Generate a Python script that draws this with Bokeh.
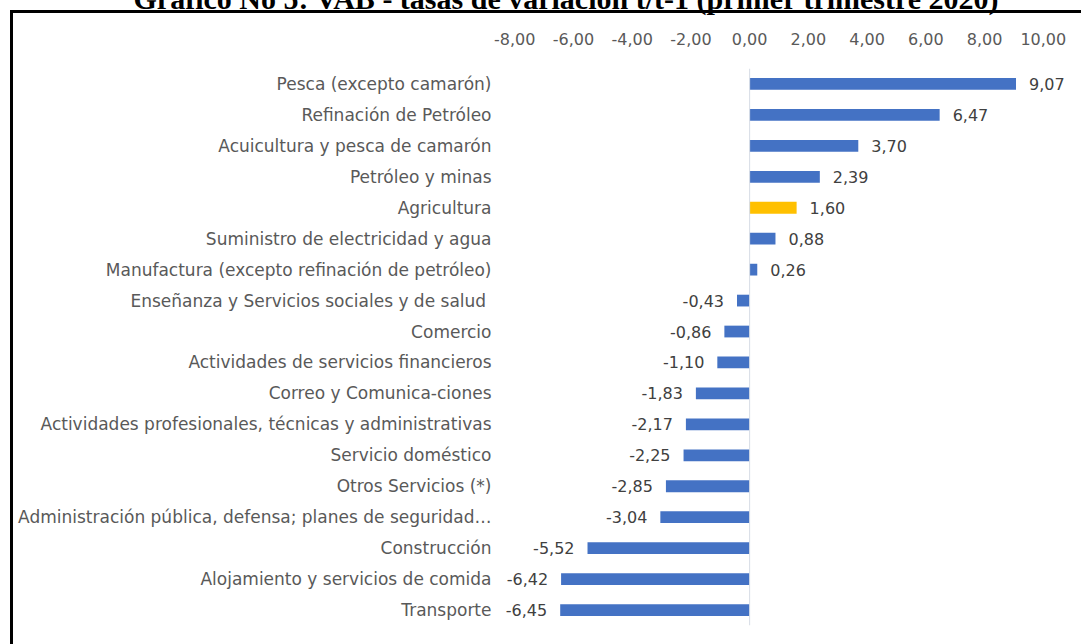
from bokeh.plotting import figure
from bokeh.models import (ColumnDataSource, Range1d, LinearAxis, FixedTicker, Span)
from bokeh.core.properties import value
from bokeh.embed import file_html
from bokeh.resources import INLINE

title_text = "Gráfico No 5: VAB - tasas de variación t/t-1 (primer trimestre 2020)"

categories = [
    "Pesca (excepto camarón)",
    "Refinación de Petróleo",
    "Acuicultura y pesca de camarón",
    "Petróleo y minas",
    "Agricultura",
    "Suministro de electricidad y agua",
    "Manufactura (excepto refinación de petróleo)",
    "Enseñanza  y Servicios sociales y de salud",
    "Comercio",
    "Actividades de servicios financieros",
    "Correo y Comunica-ciones",
    "Actividades profesionales, técnicas y administrativas",
    "Servicio doméstico",
    "Otros Servicios (*)",
    "Administración pública, defensa; planes de seguridad…",
    "Construcción",
    "Alojamiento y servicios de comida",
    "Transporte",
]
values = [9.07, 6.47, 3.70, 2.39, 1.60, 0.88, 0.26, -0.43, -0.86, -1.10,
          -1.83, -2.17, -2.25, -2.85, -3.04, -5.52, -6.42, -6.45]
highlight = "Agricultura"

x_ticks = [-8, -6, -4, -2, 0, 2, 4, 6, 8, 10]
x_tick_labels = ["-8,00", "-6,00", "-4,00", "-2,00", "0,00", "2,00", "4,00",
                 "6,00", "8,00", "10,00"]

BLUE = "#4472C4"
GOLD = "#FFC000"
FONT = "DejaVu Sans"

ypos = list(range(len(categories)))
colors = [GOLD if c == highlight else BLUE for c in categories]
labels = [f"{v:.2f}".replace(".", ",") for v in values]

src = ColumnDataSource(dict(y=ypos, v=values, color=colors, label=labels))
pos_src = ColumnDataSource(dict(
    y=[y for y, v in zip(ypos, values) if v >= 0],
    v=[v for v in values if v >= 0],
    label=[l for l, v in zip(labels, values) if v >= 0]))
neg_src = ColumnDataSource(dict(
    y=[y for y, v in zip(ypos, values) if v < 0],
    v=[v for v in values if v < 0],
    label=[l for l, v in zip(labels, values) if v < 0]))

SHIFT = 48  # the page's top crops the title, as in the reference

p = figure(width=1081, height=644 + SHIFT, output_backend="svg", toolbar_location=None,
           x_range=Range1d(-9.3, 11.3), y_range=Range1d(len(categories) - 0.5, -0.5),
           x_axis_location=None, y_axis_location=None,
           min_border_left=476, min_border_right=0, min_border_top=68 + SHIFT,
           min_border_bottom=19)
p.title.text = title_text
p.title.text_font = "Liberation Serif"
p.title.text_font_style = "bold"
p.title.text_font_size = "30px"
p.title.text_color = "black"
p.title.align = "left"
p.title.offset = -343
p.title.standoff = 30
p.styles = {
    "margin-top": f"-{SHIFT}px",
    "background": (f"linear-gradient(#000,#000) 10px {10 + SHIFT}px / 3px 900px no-repeat, "
                   f"linear-gradient(#000,#000) 10px {10 + SHIFT}px / 1200px 3px no-repeat, #fff"),
}
p.outline_line_color = None
p.background_fill_color = "white"
p.border_fill_alpha = 0
p.xgrid.grid_line_color = None
p.ygrid.grid_line_color = None

xaxis = LinearAxis(ticker=FixedTicker(ticks=x_ticks),
                   major_label_overrides={t: l for t, l in zip(x_ticks, x_tick_labels)})
xaxis.axis_line_color = None
xaxis.major_tick_line_color = None
xaxis.minor_tick_line_color = None
xaxis.major_tick_out = 0
xaxis.major_label_text_font = FONT
xaxis.major_label_text_font_size = "16px"
xaxis.major_label_text_color = "#595959"
xaxis.major_label_standoff = 24
p.add_layout(xaxis, "above")

yaxis = LinearAxis(ticker=FixedTicker(ticks=ypos),
                   major_label_overrides={i: c for i, c in zip(ypos, categories)})
yaxis.axis_line_color = None
yaxis.major_tick_line_color = None
yaxis.minor_tick_line_color = None
yaxis.major_tick_out = 0
yaxis.major_label_text_font = FONT
yaxis.major_label_text_font_size = "17px"
yaxis.major_label_text_color = "#595959"
yaxis.major_label_standoff = -15
p.add_layout(yaxis, "left")

p.add_layout(Span(location=0, dimension="height", line_color="#D6DCE5", line_width=1))

p.hbar(y="y", left=0, right="v", height=0.38, color="color", line_color=None, source=src)

p.text(x="v", y="y", text="label", source=pos_src, x_offset=13,
       text_align="left", text_baseline="middle", text_font=value(FONT),
       text_font_size="16px", text_color="#404040")
p.text(x="v", y="y", text="label", source=neg_src, x_offset=-13,
       text_align="right", text_baseline="middle", text_font=value(FONT),
       text_font_size="16px", text_color="#404040")

open("out.html", "w").write(file_html(p, INLINE))
